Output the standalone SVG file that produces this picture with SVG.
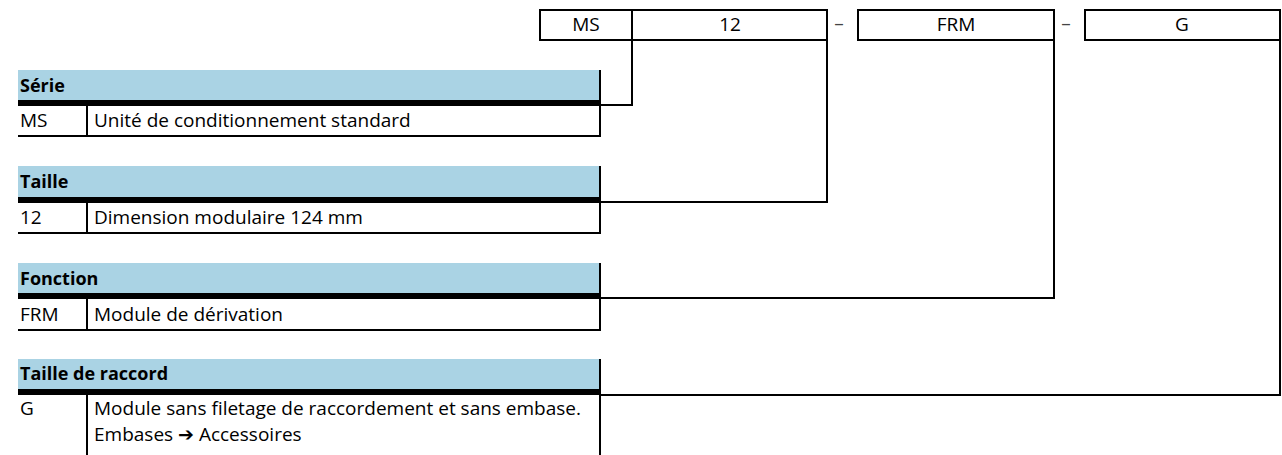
<svg xmlns="http://www.w3.org/2000/svg" width="1282" height="455" viewBox="0 0 1282 455">
<style>
text{font-family:"Open Sans","Noto Sans","Liberation Sans",sans-serif;font-size:19px;fill:#000}
.h{font-weight:bold;font-size:18px}
.c{text-anchor:middle}
.dash{fill:#444}
.arr{font-family:"DejaVu Sans",sans-serif;font-weight:bold}
.hdr{fill:#aad3e4}
.bar{fill:#000}
.ln{stroke:#000;stroke-width:2;fill:none}
</style>
<rect width="1282" height="455" fill="#fff"/>
<g id="code">
<rect class="ln" x="540" y="10" width="287" height="30"/>
<line class="ln" x1="632" y1="10" x2="632" y2="40"/>
<rect class="ln" x="858" y="10" width="196" height="30"/>
<rect class="ln" x="1085" y="10" width="195" height="30"/>
<text class="c" x="586" y="31">MS</text>
<text class="c" x="730" y="31">12</text>
<text class="c" x="956" y="31">FRM</text>
<text class="c" x="1182" y="31">G</text>
<text class="c dash" x="839" y="30">–</text>
<text class="c dash" x="1066" y="30">–</text>
</g>
<g id="serie">
<rect class="hdr" x="18" y="70" width="582" height="30"/>
<rect class="bar" x="18" y="100" width="583" height="6"/>
<line class="ln" x1="18" y1="136" x2="601" y2="136"/>
<line class="ln" x1="87" y1="106" x2="87" y2="136"/>
<line class="ln" x1="600" y1="70" x2="600" y2="137"/>
<text class="h" x="20" y="92">Série</text>
<text x="20" y="127">MS</text>
<text x="94" y="127">Unité de conditionnement standard</text>
</g>
<g id="taille">
<rect class="hdr" x="18" y="166" width="582" height="31"/>
<rect class="bar" x="18" y="197" width="583" height="6"/>
<line class="ln" x1="18" y1="233" x2="601" y2="233"/>
<line class="ln" x1="87" y1="203" x2="87" y2="233"/>
<line class="ln" x1="600" y1="166" x2="600" y2="234"/>
<text class="h" x="20" y="188">Taille</text>
<text x="20" y="224">12</text>
<text x="94" y="224">Dimension modulaire 124 mm</text>
</g>
<g id="fonction">
<rect class="hdr" x="18" y="263" width="582" height="30"/>
<rect class="bar" x="18" y="293" width="583" height="6"/>
<line class="ln" x1="18" y1="330" x2="601" y2="330"/>
<line class="ln" x1="87" y1="299" x2="87" y2="330"/>
<line class="ln" x1="600" y1="263" x2="600" y2="331"/>
<text class="h" x="20" y="285">Fonction</text>
<text x="20" y="321">FRM</text>
<text x="94" y="321">Module de dérivation</text>
</g>
<g id="raccord">
<rect class="hdr" x="18" y="359" width="582" height="30"/>
<rect class="bar" x="18" y="389" width="583" height="6"/>
<line class="ln" x1="87" y1="395" x2="87" y2="455"/>
<line class="ln" x1="600" y1="359" x2="600" y2="455"/>
<text class="h" x="20" y="380">Taille de raccord</text>
<text x="20" y="415">G</text>
<text x="94" y="415">Module sans filetage de raccordement et sans embase.</text>
<text x="94" y="441">Embases <tspan class="arr">➔</tspan> Accessoires</text>
</g>
<g id="connectors">
<polyline class="ln" points="632,40 632,105 601,105"/>
<polyline class="ln" points="827,40 827,202 601,202"/>
<polyline class="ln" points="1054,40 1054,298 601,298"/>
<polyline class="ln" points="1280,40 1280,395 601,395"/>
</g>
</svg>
